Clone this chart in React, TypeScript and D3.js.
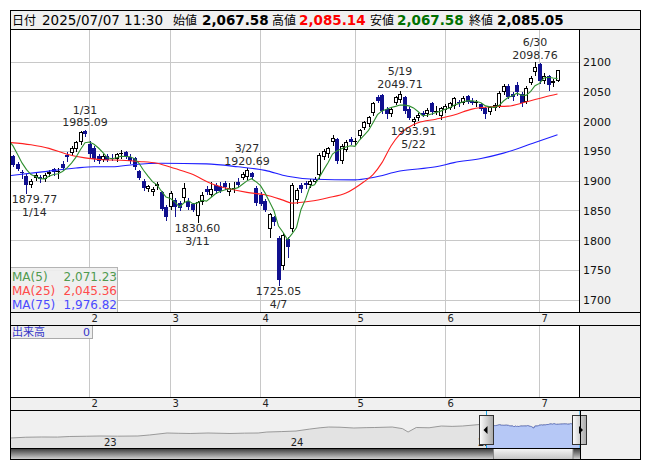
import React from 'react';
import * as d3 from 'd3';

// ---------- data ----------
const dates = ['1/6','1/7','1/8','1/9','1/10','1/14','1/15','1/16','1/17','1/20','1/21','1/22','1/23','1/24','1/27','1/28','1/29','1/30','1/31',
'2/3','2/4','2/5','2/6','2/7','2/10','2/12','2/13','2/14','2/17','2/18','2/19','2/20','2/21','2/25','2/26','2/27','2/28',
'3/3','3/4','3/5','3/6','3/7','3/10','3/11','3/12','3/13','3/14','3/17','3/18','3/19','3/21','3/24','3/25','3/26','3/27','3/28','3/31',
'4/1','4/2','4/3','4/4','4/7','4/8','4/9','4/10','4/11','4/14','4/15','4/16','4/17','4/18','4/21','4/22','4/23','4/24','4/25','4/28','4/30',
'5/1','5/2','5/7','5/8','5/9','5/12','5/13','5/14','5/15','5/16','5/19','5/20','5/21','5/22','5/23','5/26','5/27','5/28','5/29','5/30',
'6/2','6/3','6/4','6/5','6/6','6/9','6/10','6/11','6/12','6/13','6/16','6/17','6/18','6/19','6/20','6/23','6/24','6/25','6/26','6/27','6/30',
'7/1','7/2','7/3','7/4','7/7'];

const opens = [1965,1948,1941,1928,1914,1908,1893,1905,1906,1903,1911,1919,1915,1928,1943,1946,1953,1964,1983,
1962,1955,1942,1935,1942,1938,1936,1946,1948,1940,1938,1916,1900,1886,1880,1890,1880,1856,
1856,1868,1862,1870,1866,1860,1840,1864,1886,1876,1892,1890,1896,1880,1886,1898,1905,1906,1912,1888,
1875,1866,1818,1838,1803,1757,1802,1818,1867,1893,1896,1893,1898,1909,1940,1944,1965,1970,1933,1952,1970,
1966,1974,1989,1995,2013,2040,2044,2020,2011,2030,2036,2040,2020,1998,2005,2014,2012,2030,2016,2008,
2018,2022,2025,2032,2030,2042,2034,2031,2028,2022,2015,2022,2026,2048,2058,2045,2060,2045,2032,2064,2082,
2096,2068,2075,2064,2067.58];

const highs = [1968,1955,1943,1931,1918,1911,1902,1913,1909,1912,1918,1921,1921,1932,1948,1958,1966,1983,1985.09,
1966,1958,1945,1945,1944,1945,1946,1952,1950,1944,1940,1918,1902,1893,1889,1897,1882,1858,
1882,1870,1866,1896,1870,1862,1866,1880,1890,1898,1896,1898,1900,1895,1897,1904,1915,1920.69,1914,1890,
1880,1869,1846,1840,1806,1812,1805,1895,1887,1896,1900,1903,1906,1946,1953,1957,1976,1972,1962,1968,1973,
1972,1987,2000,2009,2032,2043,2046,2024,2024,2042,2049.71,2042,2023,2007,2014,2016,2022,2032,2025,2024,
2028,2032,2040,2036,2042,2044,2038,2036,2030,2024,2026,2030,2050,2062,2062,2048,2066,2048,2058,2076,2098.76,
2098,2080,2078,2070,2085.14];

const lows = [1945,1938,1924,1918,1905,1879.77,1889,1901,1898,1900,1907,1910,1905,1918,1932,1943,1950,1962,1975,
1940,1932,1930,1932,1932,1934,1933,1938,1938,1930,1920,1903,1884,1882,1876,1886,1850,1834,
1852,1840,1850,1865,1852,1848,1830.60,1860,1877,1874,1879,1880,1886,1876,1880,1890,1902,1903,1904,1858,
1858,1848,1805,1825,1725.05,1752,1771,1815,1862,1880,1888,1889,1895,1905,1936,1940,1960,1929,1929,1950,1962,
1960,1971,1986,1992,2010,2032,2014,2005,2008,2028,2032,2013,2003,1993.91,2002,2008,2008,2012,2012,2004,
2015,2020,2022,2026,2028,2030,2028,2026,2018,2005,2012,2019,2024,2046,2038,2036,2044,2026,2030,2062,2078,
2064,2064,2052,2058,2067.58];

const closes = [1950,1940,1926,1920,1912,1893,1899,1910,1902,1910,1915,1914,1916,1921,1940,1955,1964,1981,1978,
1945,1936,1933,1942,1935,1937,1944,1946,1940,1932,1922,1905,1887,1891,1886,1894,1852,1838,
1879,1855,1854,1887,1856,1851,1864,1876,1880,1886,1882,1883,1889,1888,1887,1893,1911,1918,1906,1862,
1860,1850,1844,1830,1733,1808,1788,1892,1884,1885,1892,1899,1903,1943,1950,1954,1972,1932,1958,1965,1965,
1967,1985,1998,2006,2030,2034,2017,2011,2021,2040,2045,2016,2005,2004,2010,2010,2019,2015,2017,2022,
2025,2030,2038,2031,2038,2032,2031,2032,2020,2012,2024,2027,2047,2058,2041,2040,2048,2030,2056,2073,2090,
2067,2076,2061.1,2067,2085.05];

// closes of the last sessions of December (needed for the first MA(5) points)
const decCloses = [1975, 1990, 1985];

// MA(25) / MA(75): [session index, value]
const ma25Idx = [1,6,10,14,18,22,26,30,34,38,42,46,50,54,58,62,64,68,72,76,80,82,84,86,88,90,92,96,100,104,108,112,116,120,123];
const ma25Val = [1964,1960,1954,1944,1938,1935,1934,1932,1929,1920,1910,1895,1886,1880,1876,1867,1862,1865,1871,1879,1898,1910,1930,1958,1978,1990,1997,2003,2010,2020,2024,2025,2032,2040,2045.36];
const ma75Idx = [1,8,16,20,24,29,35,45,52,58,63,69,78,82,88,96,100,106,111,118,123];
const ma75Val = [1908,1914,1921,1923,1923,1927,1929,1928,1923,1917,1907,1902,1901,1905,1916,1923,1930,1937,1946,1964,1976.82];

const yTicks = [1700,1750,1800,1850,1900,1950,2000,2050,2100];
const monthTicks = ['2','3','4','5','6','7'];
const peakDates = ['1/31','3/27','5/19','6/30'];
const troughDates = ['1/14','3/11','4/7','5/22'];

// navigator (long history)
const navDates = ['2022-06-20','2022-07-20','2022-08-20','2022-09-20','2022-10-14','2022-11-15','2022-12-12','2023-01-15','2023-02-24','2023-03-19','2023-04-22','2023-05-15','2023-06-06','2023-07-11','2023-08-23','2023-09-20','2023-10-17','2023-11-03','2023-12-01','2023-12-30','2024-01-26','2024-02-15','2024-03-03','2024-03-25','2024-04-21','2024-05-15','2024-06-01','2024-07-05','2024-07-25','2024-08-05','2024-08-21','2024-09-15','2024-10-09','2024-10-30','2024-11-19','2024-12-22','2024-12-30'];
const navValues = [1036,1090,1107,1100,1143,1160,1178,1165,1178,1250,1390,1370,1355,1390,1355,1380,1390,1460,1490,1530,1670,1760,1815,1800,1745,1770,1780,1815,1700,1460,1780,1760,1885,1860,1885,1990,1960];
const navYears = ['23','24','25'];

// ---------- styles ----------
const F = "'DejaVu Sans', 'Noto Sans CJK JP', sans-serif";
const CJK = "'Noto Sans CJK JP', 'DejaVu Sans', sans-serif";
const DOWN = '#10108f';
const GRID = '#c8c8c8';
const PANEL = '#f0f0f0';

const PL = 10.5, PR = 579.5, RR = 640.5, PT = 29.5, PB = 312.5;

export default function App() {
  const n = dates.length;
  const x = d3.scaleLinear().domain([0, n - 1]).range([4, 557.5]);
  const y = d3.scaleLinear().domain([1700, 2100]).range([299.5, 61.5]);
  const px = (i: number) => Math.round(x(i));
  const fmt = d3.format(',.2f');

  const allCloses = decCloses.concat(closes);
  const off = decCloses.length;
  const ma5: [number, number][] = [];
  closes.forEach((_, i) => {
    const j = i + off;
    if (j >= 4) ma5.push([i, d3.mean(allCloses.slice(j - 4, j + 1)) as number]);
  });
  const ma25: [number, number][] = ma25Idx.map((d, k) => [d, ma25Val[k]]);
  const ma75: [number, number][] = ma75Idx.map((d, k) => [d, ma75Val[k]]);
  const line = d3.line<[number, number]>().x(d => x(d[0])).y(d => y(d[1]));
  const smooth = d3.line<[number, number]>().x(d => x(d[0])).y(d => y(d[1])).curve(d3.curveMonotoneX);

  const monthIdx = monthTicks.map(m => dates.findIndex(d => d.split('/')[0] === m));
  const gx = (i: number) => Math.floor(x(i)) + 0.5;

  const lastMa5 = ma5[ma5.length - 1][1];
  const last = n - 1;

  // navigator
  const parse = d3.timeParse('%Y-%m-%d');
  const navSeries: [Date, number][] = navDates.map((d, k) => [parse(d) as Date, navValues[k]]);
  dates.forEach((d, i) => {
    const [m, dd] = d.split('/').map(Number);
    navSeries.push([new Date(2025, m - 1, dd), closes[i]]);
  });
  const navX = d3.scaleTime().domain([new Date(2022, 5, 20), new Date(2025, 6, 7)]).range([10.5, 580]);
  const navY = d3.scaleLinear().domain([1000, 2100]).range([438.5, 423]);
  const navArea = d3.area<[Date, number]>().x(d => navX(d[0])).y0(448.5).y1(d => navY(d[1]));
  const navLine = d3.line<[Date, number]>().x(d => navX(d[0])).y(d => navY(d[1]));
  const selX = Math.round(navX(new Date(2025, 0, 6))) - 0.5;

  const labelW = (s: string) => s.length * 6.4;

  const header = [
    { t: '日付', x: 12, cjk: true },
    { t: '2025/07/07 11:30', x: 42 },
    { t: '始値', x: 173, cjk: true },
    { t: fmt(opens[last]), x: 202, bold: true, c: '#000' },
    { t: '高値', x: 272, cjk: true },
    { t: fmt(highs[last]), x: 299, bold: true, c: '#ff0000' },
    { t: '安値', x: 370, cjk: true },
    { t: fmt(lows[last]), x: 397, bold: true, c: '#007000' },
    { t: '終値', x: 469, cjk: true },
    { t: fmt(closes[last]), x: 497, bold: true, c: '#000' },
  ];

  return (
    <svg width={653} height={470} style={{ position: 'absolute', left: 0, top: 0, background: '#fff' }} fontFamily={F}>
      <defs>
        <clipPath id="plot"><rect x={11} y={30} width={568.5} height={282} /></clipPath>
        <clipPath id="sel"><rect x={selX} y={410.5} width={580 - selX} height={38} /></clipPath>
        <clipPath id="nav"><rect x={11} y={411} width={569} height={37.5} /></clipPath>
        <linearGradient id="handle" x1="0" x2="1" y1="0" y2="0">
          <stop offset="0" stopColor="#ffffff" />
          <stop offset="1" stopColor="#a8a8a8" />
        </linearGradient>
        <linearGradient id="track" x1="0" x2="0" y1="0" y2="1">
          <stop offset="0" stopColor="#3a3a3a" />
          <stop offset="1" stopColor="#d8d8d8" />
        </linearGradient>
        <linearGradient id="thumb" x1="0" x2="0" y1="0" y2="1">
          <stop offset="0" stopColor="#f6f6f6" />
          <stop offset="1" stopColor="#c4c4c4" />
        </linearGradient>
      </defs>

      {/* header */}
      <rect x={PL} y={10.5} width={RR - PL} height={19} fill={PANEL} stroke="#000" />
      {header.map((h, k) => (
        <text key={k} x={h.x} y={25} fontSize={h.cjk ? 12 : 13.5} fontWeight={h.bold ? 'bold' : 'normal'}
          fontFamily={h.cjk ? CJK : F} fill={h.c || '#000'}>{h.t}</text>
      ))}

      {/* main panel */}
      <rect x={PL} y={PT} width={PR - PL} height={PB - PT} fill="#fff" />
      <rect x={PR} y={PT} width={RR - PR} height={PB - PT} fill={PANEL} />
      {yTicks.map(v => (
        <g key={v}>
          <line x1={PL} x2={PR} y1={Math.round(y(v)) + 0.5} y2={Math.round(y(v)) + 0.5} stroke={GRID} />
          <text x={583} y={y(v) + 4.5} fontSize={11} fill="#111">{v}</text>
        </g>
      ))}
      {monthIdx.map((i, k) => (
        <line key={k} x1={gx(i)} x2={gx(i)} y1={PT} y2={PB} stroke={GRID} />
      ))}

      <g clipPath="url(#plot)" shapeRendering="crispEdges">
        {dates.map((d, i) => {
          const c = px(i);
          const o = opens[i], cl = closes[i];
          const up = cl >= o;
          const top = Math.round(y(Math.max(o, cl)));
          const bot = Math.round(y(Math.min(o, cl)));
          const yH = Math.round(y(highs[i])), yL = Math.round(y(lows[i]));
          const col = up ? '#000' : DOWN;
          return (
            <g key={i}>
              <line x1={c + 0.5} x2={c + 0.5} y1={yH} y2={yL + 1} stroke={col} />
              {bot - top <= 1 ? (
                <line x1={c - 2} x2={c + 2} y1={top + 0.5} y2={top + 0.5} stroke={col} />
              ) : up ? (
                <rect x={c - 1.5} y={top + 0.5} width={3} height={bot - top - 1} fill="#fff" stroke="#000" />
              ) : (
                <rect x={c - 2} y={top} width={4} height={bot - top} fill={DOWN} />
              )}
            </g>
          );
        })}
      </g>
      <g clipPath="url(#plot)" fill="none" strokeWidth={1.1}>
        <path d={smooth(ma75) || ''} stroke="#1f1fff" />
        <path d={smooth(ma25) || ''} stroke="#ff2020" />
        <path d={line(ma5) || ''} stroke="#2f8f2f" />
      </g>

      {/* extreme labels */}
      {peakDates.map(ds => {
        const i = dates.indexOf(ds);
        const v = highs[i].toFixed(2);
        const cx = Math.max(x(i), 11 + labelW(v) / 2 + 1);
        const yy = y(highs[i]);
        return (
          <g key={ds} fontSize={11} fill="#2a2a2a" textAnchor="middle">
            <text x={cx} y={yy - 16}>{ds}</text>
            <text x={cx} y={yy - 3.5}>{v}</text>
          </g>
        );
      })}
      {troughDates.map(ds => {
        const i = dates.indexOf(ds);
        const v = lows[i].toFixed(2);
        const cx = Math.max(x(i), 11 + labelW(v) / 2 + 1);
        const yy = y(lows[i]);
        return (
          <g key={ds} fontSize={11} fill="#2a2a2a" textAnchor="middle">
            <text x={cx} y={yy + 10.5}>{v}</text>
            <text x={cx} y={yy + 23}>{ds}</text>
          </g>
        );
      })}

      {/* legend */}
      <rect x={PL} y={267.5} width={107} height={45} fill="#eeeeee" fillOpacity={0.92} stroke="#b4b4b4" />
      {[
        { n: 'MA(5)', v: lastMa5, c: '#4f9a4f' },
        { n: 'MA(25)', v: ma25Val[ma25Val.length - 1], c: '#ff4a4a' },
        { n: 'MA(75)', v: ma75Val[ma75Val.length - 1], c: '#4a4aff' },
      ].map((r, k) => (
        <g key={k} fontSize={12} fill={r.c}>
          <text x={12} y={281 + k * 13.8}>{r.n}</text>
          <text x={117} y={281 + k * 13.8} textAnchor="end">{fmt(r.v)}</text>
        </g>
      ))}

      <rect x={PL} y={PT} width={RR - PL} height={PB - PT} fill="none" stroke="#000" />
      <line x1={PR} x2={PR} y1={PT} y2={PB} stroke="#000" />

      {/* axis row 1 */}
      <rect x={PL} y={PB} width={RR - PL} height={13} fill={PANEL} stroke="#000" />
      {monthIdx.map((i, k) => (
        <text key={k} x={gx(i) + 2} y={322} fontSize={10} fill="#222">{monthTicks[k]}</text>
      ))}

      {/* volume panel */}
      <rect x={PL} y={325.5} width={PR - PL} height={72} fill="#fff" />
      <rect x={PR} y={325.5} width={RR - PR} height={72} fill={PANEL} />
      {monthIdx.map((i, k) => (
        <line key={k} x1={gx(i)} x2={gx(i)} y1={325.5} y2={397.5} stroke={GRID} />
      ))}
      <rect x={PL} y={325.5} width={82} height={13} fill="#eeeeee" stroke="#aaaaaa" />
      <text x={12} y={336} fontSize={11} fontFamily={CJK} fill="#3535c8">出来高</text>
      <text x={90} y={336} fontSize={11} fill="#3535c8" textAnchor="end">0</text>
      <rect x={PL} y={325.5} width={RR - PL} height={72} fill="none" stroke="#000" />
      <line x1={PR} x2={PR} y1={325.5} y2={397.5} stroke="#000" />

      {/* axis row 2 */}
      <rect x={PL} y={397.5} width={RR - PL} height={13} fill={PANEL} stroke="#000" />
      {monthIdx.map((i, k) => (
        <text key={k} x={gx(i) + 2} y={406.5} fontSize={10} fill="#222">{monthTicks[k]}</text>
      ))}

      {/* navigator */}
      <rect x={PL} y={410.5} width={RR - PL} height={49} fill={PANEL} />
      <g clipPath="url(#nav)">
        <path d={navArea(navSeries) || ''} fill="#e3e3e3" />
        <path d={navLine(navSeries) || ''} fill="none" stroke="#999" />
        {navYears.map(t => (
          <text key={t} x={navX(new Date(2000 + +t, 0, 1))} y={445.5} fontSize={10} fill="#222" textAnchor="middle">{t}</text>
        ))}
        <g clipPath="url(#sel)">
          <path d={navArea(navSeries) || ''} fill="#b6c8f6" />
          <path d={navLine(navSeries) || ''} fill="none" stroke="#6a7cc4" />
        </g>
      </g>
      <line x1={selX} x2={selX} y1={410.5} y2={448.5} stroke="#1ea6e6" />
      <line x1={580} x2={580} y1={410.5} y2={448.5} stroke="#1ea6e6" />

      {/* scrollbar */}
      <rect x={PL} y={448.5} width={580 - PL} height={11} fill="url(#track)" />
      <rect x={selX + 7} y={448.5} width={573 - selX - 7} height={11} fill="url(#thumb)" stroke="#8a8a8a" />

      {/* handles */}
      {[selX, 580].map((hx, k) => (
        <g key={k}>
          <rect x={Math.round(hx) - 7.5} y={415.5} width={14} height={29} fill="url(#handle)" stroke="#333" />
          {k === 0 ? (
            <path d={`M${hx - 3},430 L${hx + 1},426 L${hx + 1},434 Z`} fill="#000" />
          ) : (
            <path d={`M${hx + 3},430 L${hx - 1},426 L${hx - 1},434 Z`} fill="#000" />
          )}
        </g>
      ))}

      <line x1={PL} x2={580} y1={448.5} y2={448.5} stroke="#000" />
      <line x1={580.5} x2={580.5} y1={410.5} y2={459.5} stroke="#000" />
      <rect x={PL} y={410.5} width={RR - PL} height={49} fill="none" stroke="#000" />
    </svg>
  );
}
